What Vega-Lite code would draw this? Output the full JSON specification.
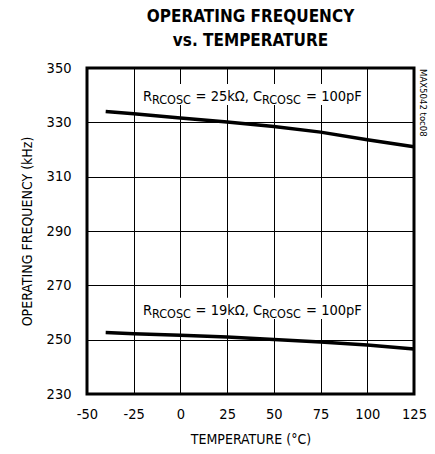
{
  "$schema": "https://vega.github.io/schema/vega-lite/v6.json",
  "autosize": {"type": "none"},
  "padding": {"left": 87, "top": 68, "right": 21, "bottom": 60},
  "width": 327,
  "height": 326,
  "background": "white",
  "title": {
    "text": ["OPERATING FREQUENCY", "vs. TEMPERATURE"],
    "font": "DejaVu Sans Condensed, Liberation Sans",
    "fontSize": 17,
    "fontWeight": "bold",
    "lineHeight": 24,
    "color": "black",
    "anchor": "middle",
    "offset": 10
  },
  "config": {
    "view": {"stroke": "black", "strokeWidth": 3},
    "axis": {
      "labelFont": "DejaVu Sans Condensed, Liberation Sans",
      "titleFont": "DejaVu Sans Condensed, Liberation Sans",
      "labelFontSize": 14.5,
      "titleFontSize": 14,
      "titleFontWeight": "normal",
      "labelColor": "black",
      "titleColor": "black",
      "grid": true,
      "gridColor": "black",
      "gridOpacity": 1,
      "gridWidth": 1,
      "domain": false,
      "ticks": false,
      "labelFlush": false,
      "labelOverlap": false,
      "labelExpr": "toString(datum.value)"
    }
  },
  "datasets": {
    "curves": [
      {"series": "25k", "T": -40, "F": 334.0},
      {"series": "25k", "T": -25, "F": 333.2},
      {"series": "25k", "T": 0, "F": 331.6},
      {"series": "25k", "T": 25, "F": 330.1},
      {"series": "25k", "T": 50, "F": 328.5},
      {"series": "25k", "T": 75, "F": 326.4},
      {"series": "25k", "T": 100, "F": 323.6},
      {"series": "25k", "T": 125, "F": 321.0},
      {"series": "19k", "T": -40, "F": 252.6},
      {"series": "19k", "T": -25, "F": 252.2},
      {"series": "19k", "T": 0, "F": 251.6},
      {"series": "19k", "T": 25, "F": 251.0},
      {"series": "19k", "T": 50, "F": 250.1},
      {"series": "19k", "T": 75, "F": 249.1},
      {"series": "19k", "T": 100, "F": 248.0},
      {"series": "19k", "T": 125, "F": 246.6}
    ],
    "labels": [
      {"T": -20, "F": 338, "T0": -22.2, "T1": 98.8, "F0": 344.1, "F1": 336.4, "a": "R", "sub": "RCOSC", "mid": "= 25kΩ, C", "end": "= 100pF"},
      {"T": -20, "F": 259.2, "T0": -22.2, "T1": 98.8, "F0": 265.4, "F1": 257.6, "a": "R", "sub": "RCOSC", "mid": "= 19kΩ, C", "end": "= 100pF"}
    ],
    "tag": [{"T": 125, "F": 350, "t": "MAX5042 toc08"}]
  },
  "layer": [
    {
      "data": {"name": "labels"},
      "mark": {"type": "rect", "fill": "white"},
      "encoding": {
        "x": {"field": "T0", "type": "quantitative", "scale": {"domain": [-50, 125], "nice": false, "zero": false},
          "axis": {"values": [-50, -25, 0, 25, 50, 75, 100, 125], "labelPadding": 13, "title": "TEMPERATURE (°C)", "titlePadding": 12}},
        "x2": {"field": "T1"},
        "y": {"field": "F0", "type": "quantitative", "scale": {"domain": [230, 350], "nice": false, "zero": false},
          "axis": {"values": [230, 250, 270, 290, 310, 330, 350], "labelPadding": 16, "title": "OPERATING FREQUENCY (kHz)", "titlePadding": 12}},
        "y2": {"field": "F1"}
      }
    },
    {
      "data": {"name": "curves"},
      "mark": {"type": "line", "color": "black", "strokeWidth": 3.5},
      "encoding": {
        "x": {"field": "T", "type": "quantitative"},
        "y": {"field": "F", "type": "quantitative"},
        "detail": {"field": "series"}
      }
    },
    {
      "data": {"name": "labels"},
      "mark": {"type": "text", "align": "left", "baseline": "alphabetic", "font": "DejaVu Sans Condensed, Liberation Sans", "fontSize": 14.5, "color": "black", "dx": 0},
      "encoding": {"x": {"field": "T", "type": "quantitative"}, "y": {"field": "F", "type": "quantitative"}, "text": {"field": "a"}}
    },
    {
      "data": {"name": "labels"},
      "mark": {"type": "text", "align": "left", "baseline": "alphabetic", "font": "DejaVu Sans Condensed, Liberation Sans", "fontSize": 12.5, "color": "black", "dx": 9, "dy": 3},
      "encoding": {"x": {"field": "T", "type": "quantitative"}, "y": {"field": "F", "type": "quantitative"}, "text": {"field": "sub"}}
    },
    {
      "data": {"name": "labels"},
      "mark": {"type": "text", "align": "left", "baseline": "alphabetic", "font": "DejaVu Sans Condensed, Liberation Sans", "fontSize": 14.5, "color": "black", "dx": 52.5},
      "encoding": {"x": {"field": "T", "type": "quantitative"}, "y": {"field": "F", "type": "quantitative"}, "text": {"field": "mid"}}
    },
    {
      "data": {"name": "labels"},
      "mark": {"type": "text", "align": "left", "baseline": "alphabetic", "font": "DejaVu Sans Condensed, Liberation Sans", "fontSize": 12.5, "color": "black", "dx": 119, "dy": 3},
      "encoding": {"x": {"field": "T", "type": "quantitative"}, "y": {"field": "F", "type": "quantitative"}, "text": {"field": "sub"}}
    },
    {
      "data": {"name": "labels"},
      "mark": {"type": "text", "align": "left", "baseline": "alphabetic", "font": "DejaVu Sans Condensed, Liberation Sans", "fontSize": 14.5, "color": "black", "dx": 163},
      "encoding": {"x": {"field": "T", "type": "quantitative"}, "y": {"field": "F", "type": "quantitative"}, "text": {"field": "end"}}
    },
    {
      "data": {"name": "tag"},
      "mark": {"type": "text", "align": "left", "baseline": "middle", "angle": 90, "font": "DejaVu Sans Condensed, Liberation Sans", "fontSize": 9.5, "color": "black", "dx": 1, "dy": -9},
      "encoding": {"x": {"field": "T", "type": "quantitative"}, "y": {"field": "F", "type": "quantitative"}, "text": {"field": "t"}}
    }
  ]
}
